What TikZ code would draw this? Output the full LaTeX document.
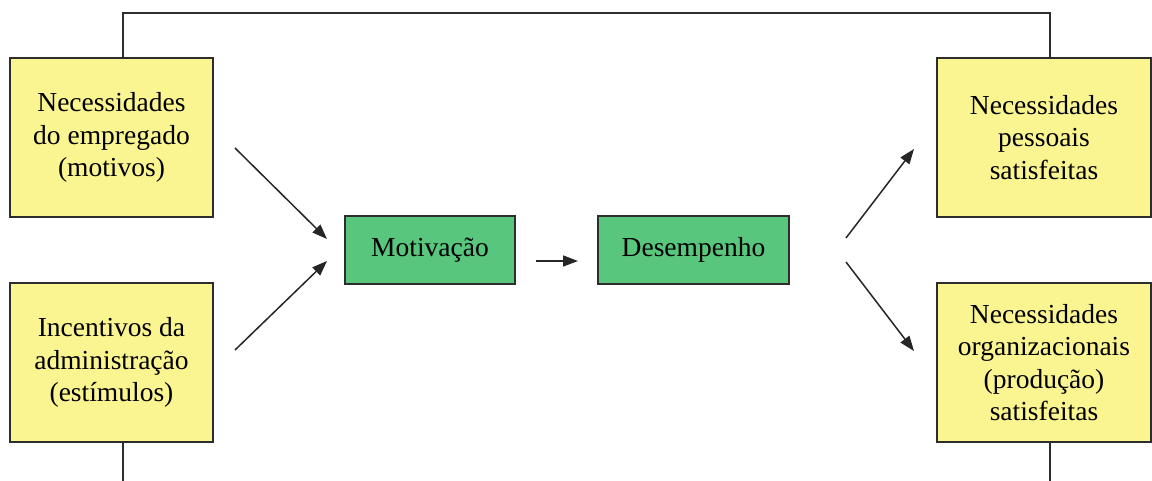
\documentclass[tikz,border=0pt]{standalone}
\usepackage{fontspec}
\setmainfont{Liberation Serif}
\newfontfamily\boxfont{Liberation Serif}
\usetikzlibrary{arrows.meta}
\definecolor{boxyellow}{RGB}{250,245,145}
\definecolor{boxgreen}{RGB}{88,198,124}
\definecolor{edge}{RGB}{45,45,45}
\tikzset{
  yellowbox/.style={draw=edge, line width=1.4pt, fill=boxyellow, align=center,
    font=\boxfont\fontsize{27.5}{32.5}\selectfont, inner sep=0pt},
  greenbox/.style={draw=edge, line width=1.4pt, fill=boxgreen, align=center,
    font=\boxfont\fontsize{27.5}{32.5}\selectfont, inner sep=0pt,
    minimum height=68pt},
  link/.style={draw=edge, line width=1.4pt},
  flow/.style={draw=black!85, line width=1.5pt, -{Triangle[length=15pt,width=11pt]}}
}
\begin{document}
\begin{tikzpicture}[x=1pt,y=-1pt]
  \useasboundingbox[fill=white] (0,0) rectangle (1152,481);

  % input boxes
  \node[yellowbox, minimum width=203pt, minimum height=159pt] (emp) at (111.5,137.5)
    {Necessidades\\do empregado\\(motivos)};
  \node[yellowbox, minimum width=203pt, minimum height=159pt] (adm) at (111.5,362.5)
    {Incentivos da\\administração\\(estímulos)};

  % central process boxes
  \node[greenbox, minimum width=170pt] (mot) at (430,250) {Motivação};
  \node[greenbox, minimum width=191pt] (des) at (693.5,250) {Desempenho};

  % outcome boxes
  \node[yellowbox, minimum width=214pt, minimum height=159pt] (pes) at (1044,137.5)
    {Necessidades\\pessoais\\satisfeitas};
  \node[yellowbox, minimum width=214pt, minimum height=159pt] (org) at (1044,362.5)
    {Necessidades\\organizacionais\\(produção)\\satisfeitas};

  % feedback loop lines
  \coordinate (topL) at (123,13);
  \coordinate (topR) at (1050,13);
  \coordinate (botL) at (123,481);
  \coordinate (botR) at (1050,481);
  \draw[link] (topL |- emp.north) -- (topL) -- (topR) -- (topR |- pes.north);
  \draw[link] (botL |- adm.south) -- (botL);
  \draw[link] (botR |- org.south) -- (botR);

  % arrow end points
  \coordinate (a1s) at (235,148);
  \coordinate (a1e) at (327,239);
  \coordinate (a2s) at (235,350);
  \coordinate (a2e) at (327,261);
  \coordinate (a3s) at (536,261);
  \coordinate (a3e) at (578,261);
  \coordinate (a4s) at (846,238);
  \coordinate (a4e) at (914,149);
  \coordinate (a5s) at (846,262);
  \coordinate (a5e) at (914,351);

  \draw[flow] (a1s) -- (a1e);
  \draw[flow] (a2s) -- (a2e);
  \draw[flow] (a3s) -- (a3e);
  \draw[flow] (a4s) -- (a4e);
  \draw[flow] (a5s) -- (a5e);
\end{tikzpicture}
\end{document}
